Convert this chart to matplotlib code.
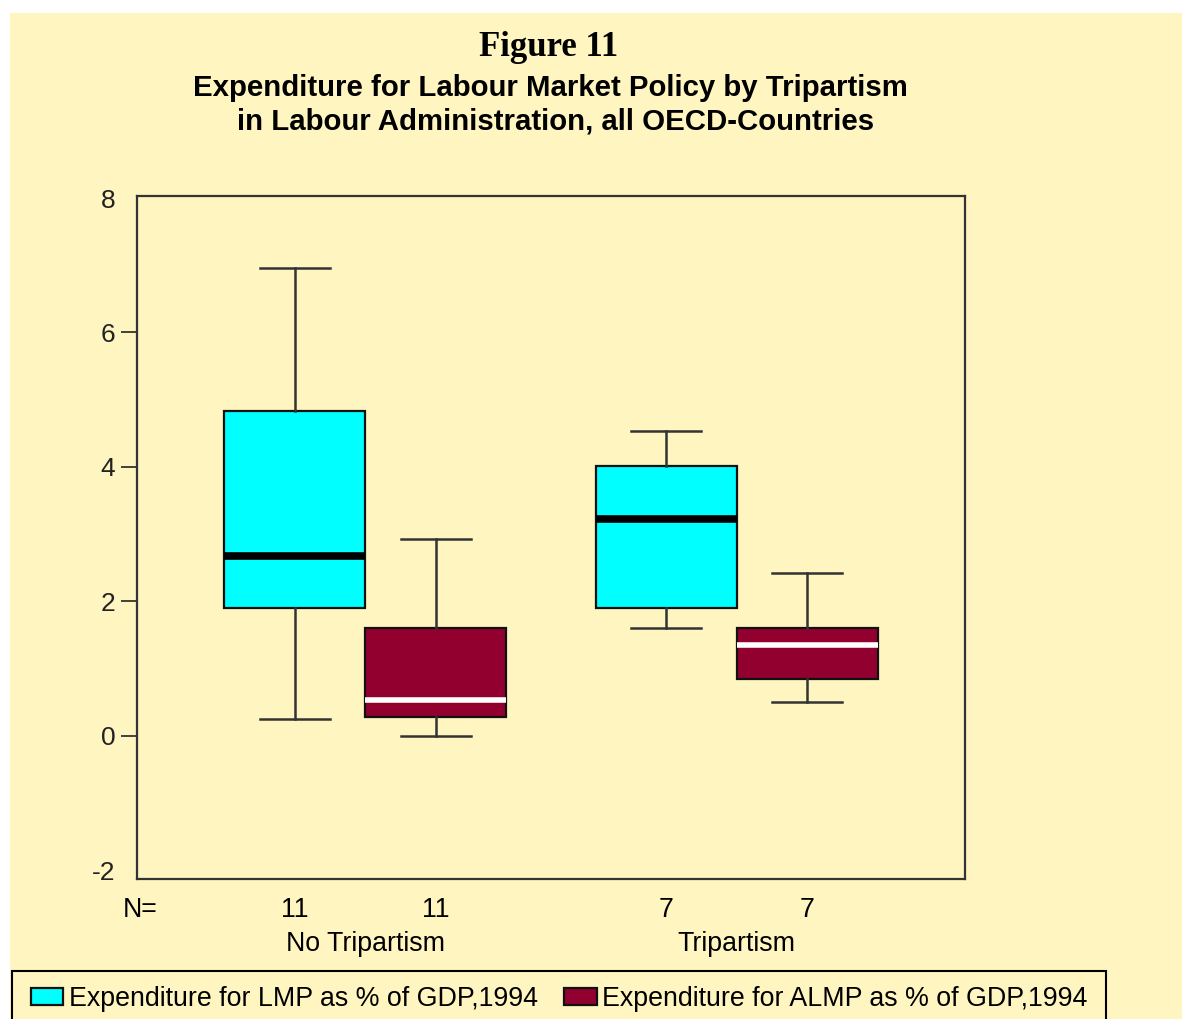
import matplotlib
matplotlib.use("Agg")
import matplotlib.pyplot as plt
from matplotlib.patches import Rectangle

# Werte
groups = ['No Tripartism', 'Tripartism']
lmp_n = [11, 7]
almp_n = [11, 7]

lmp_low = [0.25, 1.61]
lmp_q1 = [1.90, 1.90]
lmp_med = [2.68, 3.22]
lmp_q3 = [4.83, 4.02]
lmp_high = [6.96, 4.54]

almp_low = [0.00, 0.51]
almp_q1 = [0.28, 0.84]
almp_med = [0.54, 1.35]
almp_q3 = [1.61, 1.60]
almp_high = [2.93, 2.42]

y_ticks = [-2, 0, 2, 4, 6, 8]

lmp_label = 'Expenditure for LMP as % of GDP,1994'
almp_label = 'Expenditure for ALMP as % of GDP,1994'

bg = '#fff5c1'
line_col = '#333333'
W, H = 1182, 1019


def make_stats(lo, q1, med, q3, hi):
    return [dict(whislo=a, q1=b, med=c, q3=d, whishi=e, fliers=[])
            for a, b, c, d, e in zip(lo, q1, med, q3, hi)]


plt.rcParams['font.family'] = ['Liberation Sans', 'DejaVu Sans']

fig = plt.figure(figsize=(W / 100, H / 100), dpi=100)
fig.patch.set_facecolor('white')
fig.patches.append(Rectangle((10 / W, 0), 1 - 10 / W, 1 - 13 / H,
                             transform=fig.transFigure, facecolor=bg,
                             edgecolor='none', zorder=-10))

ax = fig.add_axes([137 / W, 1 - 879 / H, 828 / W, 683 / H])
ax.set_facecolor(bg)

lmp_pos = [1.0, 3.633]
almp_pos = [2.0, 4.633]

common = dict(widths=1.0, capwidths=0.5, patch_artist=True, showfliers=False,
              manage_ticks=False,
              whiskerprops=dict(color=line_col, lw=1.8),
              capprops=dict(color=line_col, lw=1.8))

bp1 = ax.bxp(make_stats(lmp_low, lmp_q1, lmp_med, lmp_q3, lmp_high),
             positions=lmp_pos,
             boxprops=dict(facecolor='#00ffff', edgecolor='#111111', lw=1.6),
             medianprops=dict(color='black', lw=5.5, solid_capstyle='butt'),
             **common)
bp2 = ax.bxp(make_stats(almp_low, almp_q1, almp_med, almp_q3, almp_high),
             positions=almp_pos,
             boxprops=dict(facecolor='#920030', edgecolor='#111111', lw=1.6),
             medianprops=dict(color='white', lw=4, solid_capstyle='butt'),
             **common)

ax.set_xlim(-0.12, 5.752)
ax.set_ylim(-2.13, 8.03)
ax.set_xticks([])
ax.set_yticks(y_ticks)
ax.set_yticklabels([str(t) for t in y_ticks])
ax.tick_params(axis='y', length=11.5, width=1.3, color=line_col, pad=4,
               labelsize=19, labelcolor='#222222')
yt = ax.yaxis.get_major_ticks()
yt[0].tick1line.set_visible(False)
yt[-1].tick1line.set_visible(False)
for s in ax.spines.values():
    s.set_color(line_col)
    s.set_linewidth(1.6)

# N-Werte und Gruppennamen unter der Achse
tr = ax.get_xaxis_transform()
ax.text(-0.1, -0.0454, 'N=', transform=tr, ha='center', va='center', fontsize=19.3)
for p, n in zip(lmp_pos + almp_pos, lmp_n + almp_n):
    ax.text(p, -0.0454, str(n), transform=tr, ha='center', va='center', fontsize=19.3)
for i, g in enumerate(groups):
    mid = (lmp_pos[i] + almp_pos[i]) / 2
    ax.text(mid, -0.095, g, transform=tr, ha='center', va='center', fontsize=19.3)

# Titel
fig.text(549 / W, 1 - 47 / H, 'Figure 11', ha='center', va='center',
         fontsize=25, fontweight='bold', family=['Liberation Serif', 'DejaVu Serif'])
fig.text(550 / W, 1 - 88 / H, 'Expenditure for Labour Market Policy by Tripartism',
         ha='center', va='center', fontsize=21.2, fontweight='bold')
fig.text(556 / W, 1 - 122 / H, 'in Labour Administration, all OECD-Countries',
         ha='center', va='center', fontsize=21.2, fontweight='bold')

# Legende
fig.legend([bp1['boxes'][0], bp2['boxes'][0]], [lmp_label, almp_label],
           loc='center left', bbox_to_anchor=(31 / W, 1 - 999 / H), ncol=2,
           frameon=False, fontsize=19.3, borderpad=0, borderaxespad=0,
           handlelength=1.2, handleheight=0.6, handletextpad=0.2,
           columnspacing=1.0)
fig.patches.append(Rectangle((12 / W, -0.05), (1106 - 12) / W, (1019 - 971) / H + 0.05,
                             transform=fig.transFigure, facecolor='none',
                             edgecolor='black', lw=1.5))

fig.savefig('out.png', dpi=100, facecolor=fig.get_facecolor())
